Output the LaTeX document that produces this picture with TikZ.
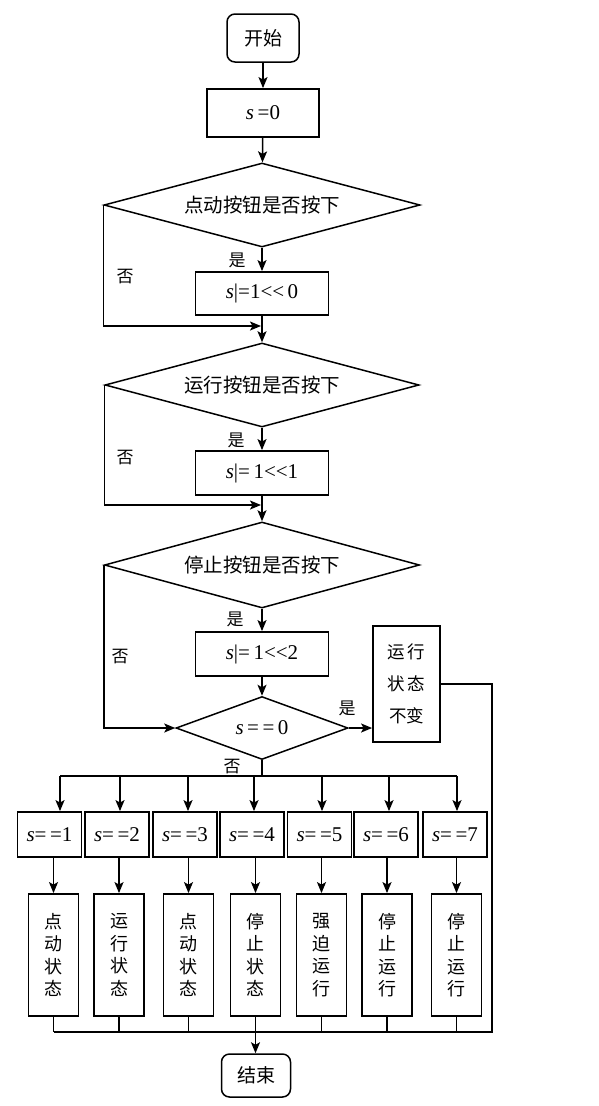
\documentclass[tikz,border=0pt]{standalone}
\usepackage{fontspec}
\setmainfont{Liberation Serif}[Ligatures=NoCommon]
\newfontfamily\cjk{Noto Sans CJK SC}
\usetikzlibrary{shapes.geometric,arrows.meta}
\begin{document}
\begin{tikzpicture}[x=1pt,y=-1pt,
  box/.style={draw,line width=1.8pt,inner sep=0pt},
  dia/.style={draw,diamond,line width=1.5pt,inner sep=0pt,shape aspect=3},
  term/.style={draw,rounded corners=8pt,line width=1.5pt,inner sep=0pt,minimum width=72pt,minimum height=48pt,font=\cjk\fontsize{19}{22}\selectfont},
  arr/.style={line width=1.5pt,-{Stealth[length=11pt,width=9pt,inset=2.5pt]}},
  ln/.style={line width=1.2pt},
  lbl/.style={font=\cjk\fontsize{17}{20}\selectfont,inner sep=0pt},
  ctxt/.style={font=\cjk\fontsize{19.5}{22}\selectfont},
  mtxt/.style={font=\fontsize{21}{24}\selectfont},
  opbox/.style={box,minimum width=133pt,minimum height=44pt,mtxt},
  sbox/.style={box,minimum width=64pt,minimum height=45pt,mtxt},
  tbox/.style={box,minimum width=50pt,minimum height=122pt,align=center,font=\cjk\fontsize{18}{22.5}\selectfont},
]
\useasboundingbox (0,0) rectangle (598,1106);

% main column
\node[term] (start) at (263,38) {开始};
\node[box,minimum width=112pt,minimum height=48pt,mtxt] (s0) at (263,113) {\textit{s}\,=0};
\node[dia,minimum width=316pt,minimum height=84pt,ctxt] (d1) at (262,205) {点动按钮是否按下};
\node[opbox,minimum height=43pt] (b0) at (262,293.5) {\textit{s}|=1<{}<\,0};
\node[dia,minimum width=314pt,minimum height=84pt,ctxt] (d2) at (262,385) {运行按钮是否按下};
\node[opbox] (b1) at (262,473) {\textit{s}|=\,1<{}<1};
\node[dia,minimum width=315pt,minimum height=86pt,ctxt] (d3) at (262,565) {停止按钮是否按下};
\node[opbox] (b2) at (262,654) {\textit{s}|=\,1<{}<2};
\node[dia,minimum width=172pt,minimum height=63pt,mtxt] (d4) at (262,728) {\textit{s}\,=\,=\,0};
\node[box,minimum width=67pt,minimum height=116pt,align=center,font=\cjk\fontsize{17.5}{32}\selectfont] (keep) at (406.5,684) {运\,行\\状\,态\\不变};

% case boxes
\foreach \i/\x in {1/49.5,2/117,3/185,4/252,5/319.5,6/386,7/455}
  \node[sbox] (s\i) at (\x,834.5) {\textit{s}=\,=\i};
\node[tbox] (t1) at (53.5,955) {点\\动\\状\\态};
\node[tbox] (t2) at (119,955) {运\\行\\状\\态};
\node[tbox] (t3) at (188.5,955) {点\\动\\状\\态};
\node[tbox] (t4) at (255.5,955) {停\\止\\状\\态};
\node[tbox] (t5) at (321.5,955) {强\\迫\\运\\行};
\node[tbox] (t6) at (387,955) {停\\止\\运\\行};
\node[tbox] (t7) at (456.5,955) {停\\止\\运\\行};
\node[term,minimum width=69pt,minimum height=43pt] (stop) at (256,1075.5) {结束};

% connectors main column
\draw[arr] (start) -- (s0);
\draw[arr] (s0) -- (d1);
\draw[arr] (d1) -- (b0);
\draw[arr] (b0) -- (d2);
\draw[arr] (d2) -- (b1);
\draw[arr] (b1) -- (d3);
\draw[arr] (d3) -- (b2);
\draw[arr] (b2) -- (d4);

\coordinate (m1) at (261,326);
\coordinate (m2) at (261,505);
\draw[arr] (d1.west) |- (m1);
\draw[arr] (d2.west) |- (m2);
\draw[arr] (d3.west) |- (d4.west);
\draw[arr] (d4.east) -- (keep.west |- d4.east);

% labels
\node[lbl] at (237,260) {是};
\node[lbl] at (125,277) {否};
\node[lbl] at (236,440) {是};
\node[lbl] at (125,458) {否};
\node[lbl] at (235,619) {是};
\node[lbl] at (120,657) {否};
\node[lbl] at (347,708) {是};
\node[lbl] at (232,767) {否};

% top bus
\coordinate (ub) at (262,776);
\draw[line width=1.5pt] (d4.south) -- (ub);
\foreach \i/\x in {1/60,2/120,3/188,4/254,5/322,6/389,7/457}{
  \coordinate (u\i) at (\x,776);
  \draw[arr] (u\i) -- (u\i |- s\i.north);
  \draw[arr] (t\i.north |- s\i.south) -- (t\i.north);
}
\draw[line width=1.5pt] (u1) -- (u7);

% bottom bus
\coordinate (bl) at (53.5,1032);
\coordinate (br) at (492,1032);
\draw[line width=1.5pt] (keep.east) -| (br) -- (bl);
\foreach \i in {1,2,3,5,6,7}
  \draw[ln] (t\i.south) -- (t\i.south |- bl);
\draw[line width=1.5pt] (t4.south) -- (t4.south |- bl);
\draw[arr] (t4.south |- bl) -- (t4.south |- stop.north);
\end{tikzpicture}
\end{document}
